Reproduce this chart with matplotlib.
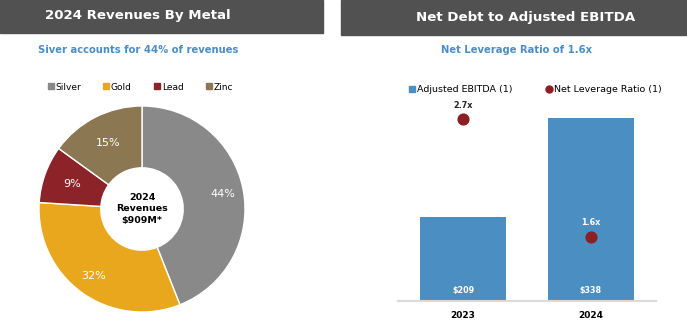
import matplotlib
matplotlib.use("Agg")
import matplotlib.pyplot as plt
from matplotlib.patches import Rectangle
from matplotlib.lines import Line2D
import numpy as np

plt.rcParams['font.family'] = ['DejaVu Sans']

# Revenue split by metal
metals = ["Silver", "Gold", "Lead", "Zinc"]
shares = [44, 32, 9, 15]
metal_colors = ["#898989", "#E8A71C", "#8B2328", "#8B7752"]

# Leverage data
years = ["2023", "2024"]
ebitda = [209, 338]
leverage = [2.7, 1.6]

W, H = 687, 333
fig = plt.figure(figsize=(W / 100, H / 100), dpi=100)

def fx(px):
    return px / W

def fy(py):
    return 1 - py / H

HEADER = "#505150"
BLUE_TXT = "#4A8EC5"
BAR = "#4A8EC2"
DOT = "#8B1F24"

# Header bands
fig.patches.append(Rectangle((fx(0), fy(33)), fx(323), 33 / H, transform=fig.transFigure,
                             color=HEADER, zorder=0))
fig.patches.append(Rectangle((fx(341), fy(35)), fx(346), 35 / H, transform=fig.transFigure,
                             color=HEADER, zorder=0))
fig.text(fx(138), fy(16), "2024 Revenues By Metal", color="white", fontsize=9.6,
         fontweight="bold", ha="center", va="center")
fig.text(fx(526), fy(17), "Net Debt to Adjusted EBITDA", color="white", fontsize=9.6,
         fontweight="bold", ha="center", va="center")

fig.text(fx(138), fy(50), "Siver accounts for 44% of revenues", color=BLUE_TXT, fontsize=7.2,
         fontweight="bold", ha="center", va="center")
fig.text(fx(517), fy(50), "Net Leverage Ratio of 1.6x", color=BLUE_TXT, fontsize=7.2,
         fontweight="bold", ha="center", va="center")

# Donut chart
R = 103
cx, cy = 142, 209
ax1 = fig.add_axes([fx(cx - R), fy(cy + R), 2 * R / W, 2 * R / H])
wedges, _ = ax1.pie(shares, colors=metal_colors, startangle=90, counterclock=False,
                    radius=1.0, wedgeprops=dict(width=0.6, edgecolor="white", linewidth=1))
start = 90.0
total = sum(shares)
for s in shares:
    span = 360.0 * s / total
    mid = np.deg2rad(start - span / 2)
    r = 0.8 if s > 20 else 0.72
    ax1.text(r * np.cos(mid), r * np.sin(mid), f"{s}%", color="white", fontsize=8,
             ha="center", va="center")
    start -= span
ax1.text(0, 0, "2024\nRevenues\n$909M*", ha="center", va="center", fontsize=6.8,
         fontweight="bold", color="black", linespacing=1.3)
ax1.set_xlim(-1, 1)
ax1.set_ylim(-1, 1)
ax1.set_aspect("equal")
ax1.axis("off")

handles = [Line2D([], [], marker="s", linestyle="", color=c, markersize=4.5) for c in metal_colors]
fig.legend(handles, metals, loc="center", bbox_to_anchor=(fx(140), fy(87)), ncol=4, frameon=False,
           fontsize=6.5, handletextpad=0.1, columnspacing=2.4, handlelength=0.8)

# Bar + dot chart with twin axes
ax2 = fig.add_axes([fx(398), fy(301), (656 - 398) / W, 201 / H])
x = np.arange(len(years))
ax2.bar(x, ebitda, width=0.67, color=BAR, zorder=2)
ax2.set_xlim(-0.51, 1.51)
ax2.set_ylim(100, 362)
for xi, v in zip(x, ebitda):
    ax2.text(xi, 100 + 10 / 0.767, f"${v}", color="white", fontsize=5.8, fontweight="bold",
             ha="center", va="center", zorder=4)
for sp in ["top", "right", "left"]:
    ax2.spines[sp].set_visible(False)
ax2.spines["bottom"].set_color("#D9D9D9")
ax2.spines["bottom"].set_linewidth(1.5)
ax2.set_yticks([])
ax2.set_xticks(x)
ax2.set_xticklabels(years, fontsize=6.5, fontweight="bold")
ax2.tick_params(axis="x", length=0, pad=7)

ax3 = ax2.twinx()
ax3.set_ylim(1.0, 1.0 + 201 / 107)
ax3.scatter(x, leverage, s=60, color=DOT, zorder=5)
label_colors = ["#222222", "white"]
for xi, v, c in zip(x, leverage, label_colors):
    ax3.text(xi, v + 14 / 107, f"{v}x", color=c, fontsize=5.8, fontweight="bold",
             ha="center", va="center")
ax3.axis("off")

h2 = [Line2D([], [], marker="s", linestyle="", color=BAR, markersize=4.5),
      Line2D([], [], marker="o", linestyle="", color=DOT, markersize=5)]
fig.legend(h2, ["Adjusted EBITDA (1)", "Net Leverage Ratio (1)"], loc="center",
           bbox_to_anchor=(fx(535), fy(90)), ncol=2, frameon=False, fontsize=6.8,
           handletextpad=0.1, columnspacing=3.5, handlelength=0.8)

fig.savefig("out.png", dpi=100)
